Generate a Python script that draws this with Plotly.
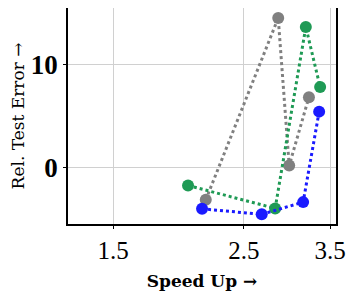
import plotly.graph_objects as go

gray_x = [2.154, 2.858, 2.983, 3.222]
gray_y = [-3.15, 14.56, 0.19, 6.85]
green_x = [2.010, 2.824, 3.183, 3.366]
green_y = [-1.75, -3.98, 13.69, 7.83]
blue_x = [2.123, 2.680, 3.150, 3.353]
blue_y = [-4.02, -4.56, -3.37, 5.44]

x_ticks = [1.5, 2.5, 3.5]
x_tick_text = ["1.5", "2.5", "3.5"]
y_ticks = [0, 10]
y_tick_text = ["<b>0</b>", "<b>10</b>"]

series = [
    (gray_x, gray_y, "#808080"),
    (green_x, green_y, "#1f9a55"),
    (blue_x, blue_y, "#1a1aff"),
]

fig = go.Figure()
for xs, ys, c in series:
    fig.add_trace(go.Scatter(
        x=xs, y=ys, mode="lines+markers",
        line=dict(color=c, width=3, dash="dot"),
        marker=dict(color=c, size=12),
        showlegend=False,
    ))

tick_font = "Liberation Serif"
title_font = "DejaVu Serif"
# page body has an 8px margin, so the figure is sized to fit the window
fig.update_layout(
    width=346, height=288,
    margin=dict(l=60, r=18, t=0, b=72),
    paper_bgcolor="white", plot_bgcolor="white",
    font=dict(family=title_font, color="black"),
)
fig.update_xaxes(
    type="log", range=[0.0997, 0.554], automargin=False,
    tickvals=x_ticks, ticktext=x_tick_text,
    tickfont=dict(size=25, family=tick_font),
    showgrid=True, gridcolor="#d0d0d0", gridwidth=1,
    showline=True, linecolor="black", linewidth=1.5, mirror=True,
    ticks="outside", ticklen=3, tickcolor="black",
    zeroline=False,
    title=dict(text="<b>Speed Up →</b>", font=dict(size=17, family=title_font), standoff=12),
)
fig.update_yaxes(
    range=[-5.5, 15.53], automargin=False,
    tickvals=y_ticks, ticktext=y_tick_text,
    tickfont=dict(size=27, family=tick_font),
    showgrid=True, gridcolor="#d0d0d0", gridwidth=1,
    showline=True, linecolor="black", linewidth=1.5, mirror=True,
    ticks="outside", ticklen=3, tickcolor="black",
    zeroline=False,
    title=dict(text="Rel. Test Error →", font=dict(size=17, family=title_font), standoff=8),
)
fig.write_html("out.html")
